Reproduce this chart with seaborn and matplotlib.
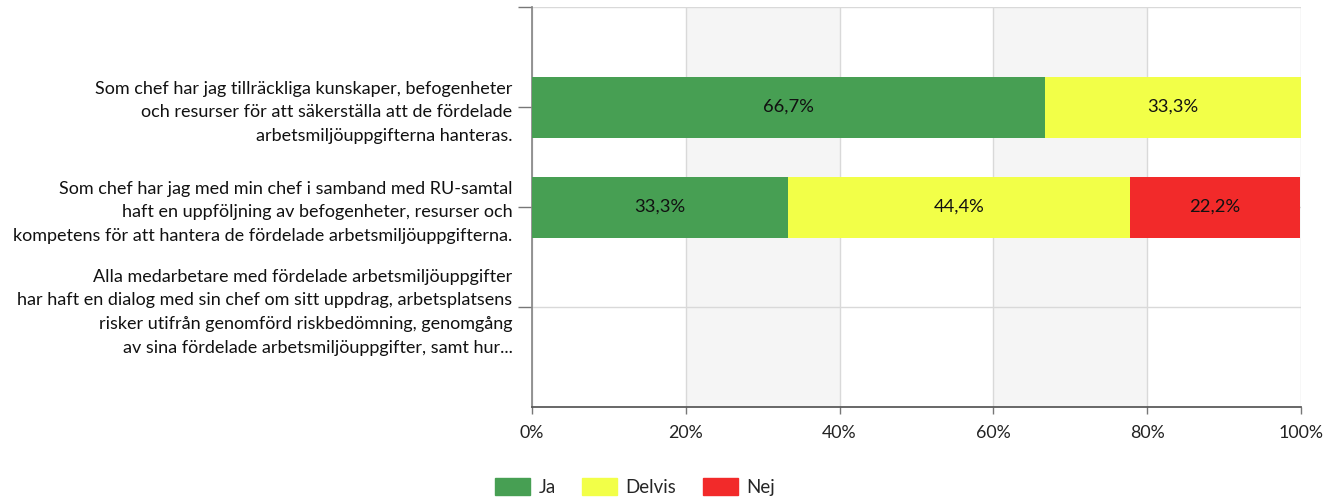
import pandas as pd
import seaborn as sns
import matplotlib.pyplot as plt
from matplotlib.patches import Patch

# data
kategorier = [
    "Som chef har jag tillräckliga kunskaper, befogenheter\n"
    "och resurser för att säkerställa att de fördelade\n"
    "arbetsmiljöuppgifterna hanteras.",
    "Som chef har jag med min chef i samband med RU-samtal\n"
    "haft en uppföljning av befogenheter, resurser och\n"
    "kompetens för att hantera de fördelade arbetsmiljöuppgifterna.",
    "Alla medarbetare med fördelade arbetsmiljöuppgifter\n"
    "har haft en dialog med sin chef om sitt uppdrag, arbetsplatsens\n"
    "risker utifrån genomförd riskbedömning, genomgång\n"
    "av sina fördelade arbetsmiljöuppgifter, samt hur...",
]
serier = ["Ja", "Delvis", "Nej"]
ja = [66.7, 33.3, 0]
delvis = [33.3, 44.4, 0]
nej = [0, 22.2, 0]
farger = {"Ja": "#479f53", "Delvis": "#f2ff48", "Nej": "#f22a2a"}
xticks = [0, 20, 40, 60, 80, 100]

sns.set_theme(style="white")
plt.rcParams['font.family'] = ['Lato', 'DejaVu Sans']

df = pd.DataFrame({"kat": list(range(len(kategorier))), "Ja": ja, "Delvis": delvis, "Nej": nej})
df["c_ja"] = df["Ja"]
df["c_delvis"] = df["c_ja"] + df["Delvis"]
df["c_nej"] = df["c_delvis"] + df["Nej"]

fig = plt.figure(figsize=(13.38, 4.99), dpi=100)
ax = fig.add_axes([532 / 1338, 1 - 407 / 499, (1301 - 532) / 1338, 400 / 499])

# bakgrundsband
for i in range(1, len(xticks) - 1, 2):
    ax.axvspan(xticks[i], xticks[i + 1], color="#f5f5f5", zorder=0, lw=0)

# staplade staplar: störst först
for serie, kol in [("Nej", "c_nej"), ("Delvis", "c_delvis"), ("Ja", "c_ja")]:
    sns.barplot(data=df, x=kol, y="kat", orient="h", color=farger[serie],
                width=0.61, saturation=1, ax=ax, zorder=3, linewidth=0)

# etiketter
for i in range(len(kategorier)):
    vanster = 0
    for serie in serier:
        v = df.loc[i, serie]
        if v > 0:
            ax.text(vanster + v / 2, i, f"{v:.1f}%".replace(".", ","),
                    ha="center", va="center", fontsize=13.2, color="#111111", zorder=4)
        vanster += v

ax.set_xlim(0, 100)
ax.set_ylim(3, -1)
ax.set_xticks(xticks)
ax.set_xticklabels([f"{t}%" for t in xticks], fontsize=12.8, color="#222222")
ax.set_yticks([-1, 0, 1, 2])
ax.set_yticklabels([""] + kategorier, fontsize=13.0, color="#111111")
for lab in ax.get_yticklabels():
    lab.set_linespacing(1.6)
ax.set_xlabel("")
ax.set_ylabel("")

ax.grid(True, axis="both", color="#d9d9d9", lw=1, zorder=1)
ax.set_axisbelow(True)
ax.tick_params(axis="y", length=10, width=1, color="#777777", pad=4, left=True)
ax.tick_params(axis="x", length=5, width=1, color="#777777", pad=8, bottom=True)
for s in ["top", "right"]:
    ax.spines[s].set_visible(False)
ax.spines["left"].set_color("#888888")
ax.spines["bottom"].set_color("#555555")

handles = [Patch(facecolor=farger[s], edgecolor=farger[s], label=s) for s in serier]
fig.legend(handles=handles, loc="center", bbox_to_anchor=(635 / 1338, 1 - 487 / 499),
           ncol=3, frameon=False, fontsize=13.4, handlelength=1.9, handleheight=1.0,
           columnspacing=1.4, handletextpad=0.45)

fig.savefig("out.png", dpi=100)
